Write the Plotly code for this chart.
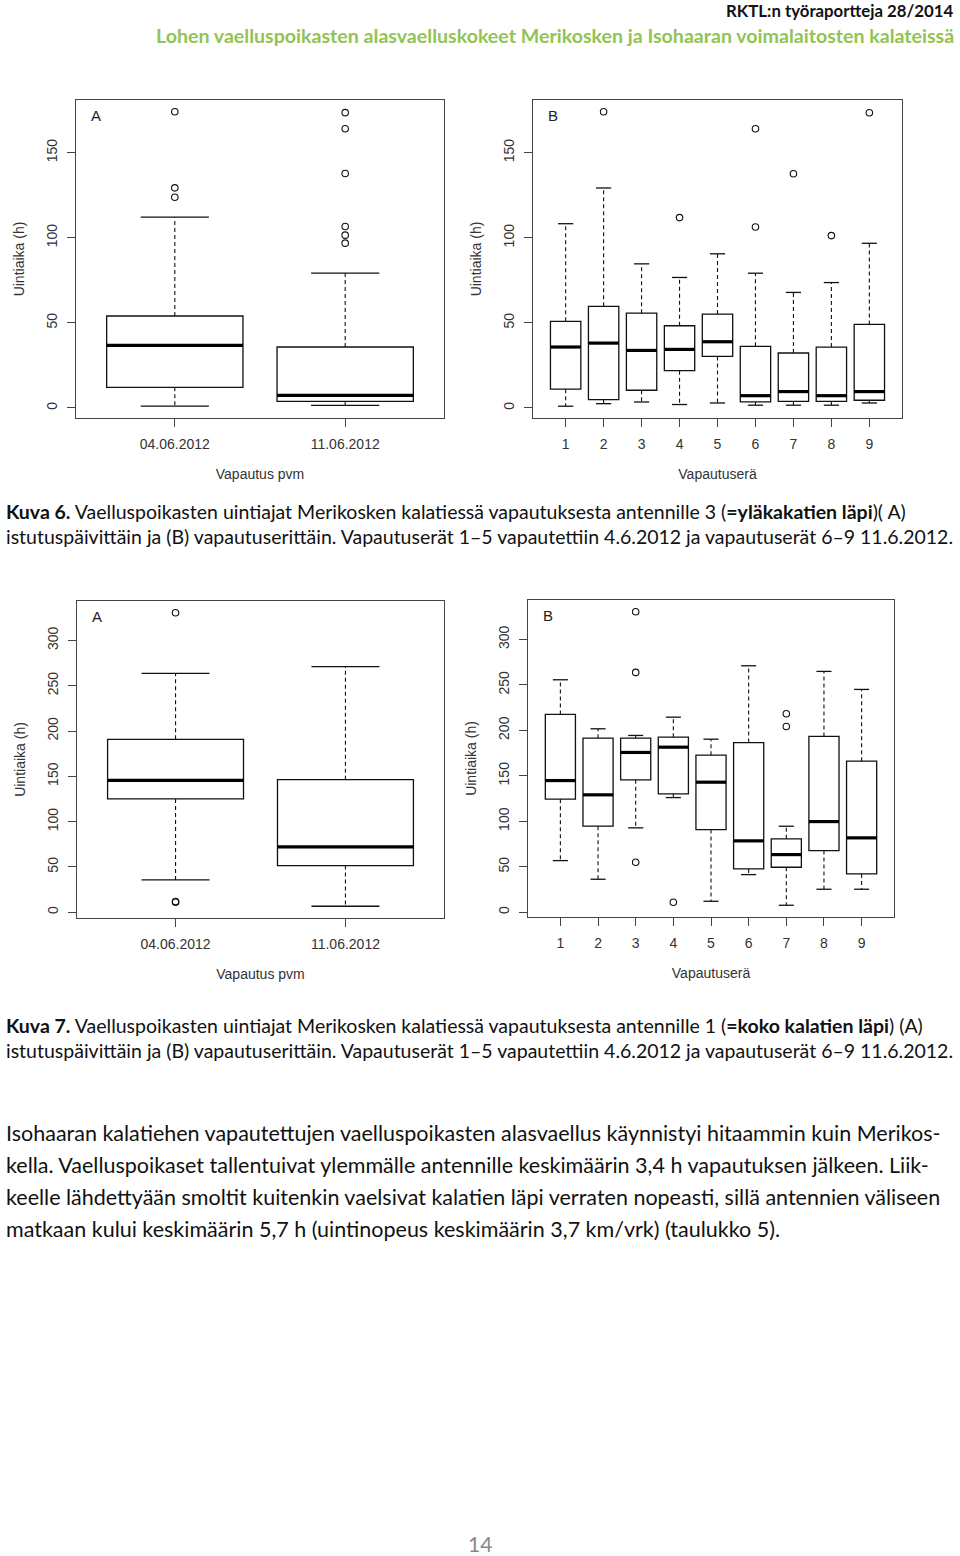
import plotly.graph_objects as go

# ---------------- data ----------------
k6a_labels = ["04.06.2012", "11.06.2012"]
k6a_lw = [1.0, 1.5]
k6a_q1 = [12.1, 3.9]
k6a_med = [36.7, 7.4]
k6a_q3 = [54.0, 35.8]
k6a_uw = [112.1, 79.2]
k6a_out = [[123.8, 129.3, 174.0], [96.8, 101.5, 106.6, 137.7, 164.0, 173.5]]

k6b_labels = ["1", "2", "3", "4", "5", "6", "7", "8", "9"]
k6b_lw = [1.0, 2.5, 3.5, 2.0, 2.9, 1.6, 1.6, 1.6, 2.9]
k6b_q1 = [11.0, 4.9, 10.4, 21.9, 30.3, 3.5, 3.9, 3.9, 4.5]
k6b_med = [35.8, 38.1, 33.8, 34.4, 38.9, 7.2, 9.6, 7.2, 9.6]
k6b_q3 = [50.9, 59.7, 55.7, 48.3, 55.2, 36.2, 32.3, 35.8, 49.1]
k6b_uw = [108.3, 129.3, 84.7, 76.7, 90.6, 79.2, 67.9, 73.7, 96.8]
k6b_out = [[], [174.1], [], [111.9], [], [106.4, 164.1], [137.7], [101.3], [173.5]]

k7a_labels = ["04.06.2012", "11.06.2012"]
k7a_lw = [35.7, 6.6]
k7a_q1 = [125.0, 51.5]
k7a_med = [145.6, 72.1]
k7a_q3 = [190.8, 146.3]
k7a_uw = [263.6, 271.0]
k7a_out = [[11.0, 11.8, 330.5], []]

k7b_labels = ["1", "2", "3", "4", "5", "6", "7", "8", "9"]
k7b_lw = [56.8, 36.3, 92.8, 126.1, 12.1, 41.4, 7.7, 25.3, 25.3]
k7b_q1 = [124.3, 94.6, 145.6, 130.2, 90.9, 47.7, 49.5, 67.8, 42.2]
k7b_med = [144.8, 129.1, 175.7, 181.5, 143.0, 78.5, 63.4, 99.7, 81.8]
k7b_q3 = [217.5, 191.4, 191.4, 192.5, 172.7, 186.6, 80.7, 193.3, 166.1]
k7b_uw = [255.6, 201.7, 194.4, 214.5, 190.3, 271.0, 94.6, 264.8, 245.0]
k7b_out = [[], [], [55.0, 263.7, 330.4], [11.0], [], [], [204.3, 218.2], [], []]

k6_yticks = [0, 50, 100, 150]
k7_yticks = [0, 50, 100, 150, 200, 250, 300]

# ---------------- page geometry ----------------
W, H = 960, 1556


def px(x):
    return x / W


def py(y):
    return 1 - y / H


R_FONT = "Liberation Sans, Arial, sans-serif"
DOC_FONT = "Lato, Open Sans, sans-serif"
BOXW = 0.8

fig = go.Figure()


def add_panel(n, labels, lw, q1, med, q3, uw, out, yticks, xtitle, letter, xdom, ydom):
    xa = "x" if n == 1 else f"x{n}"
    ya = "y" if n == 1 else f"y{n}"
    pos = list(range(1, len(labels) + 1))
    # dashed whiskers
    wx, wy = [], []
    for p, a, b, c, d in zip(pos, lw, q1, q3, uw):
        wx += [p, p, None, p, p, None]
        wy += [c, d, None, b, a, None]
    fig.add_trace(go.Scatter(x=wx, y=wy, mode="lines", xaxis=xa, yaxis=ya,
                             line=dict(color="#111", width=1.1, dash="4px,3px"),
                             showlegend=False, hoverinfo="skip"))
    # whisker staples
    sx, sy = [], []
    for p, a, d in zip(pos, lw, uw):
        sx += [p - BOXW / 4, p + BOXW / 4, None, p - BOXW / 4, p + BOXW / 4, None]
        sy += [d, d, None, a, a, None]
    fig.add_trace(go.Scatter(x=sx, y=sy, mode="lines", xaxis=xa, yaxis=ya,
                             line=dict(color="#111", width=1.3),
                             showlegend=False, hoverinfo="skip"))
    # boxes
    fig.add_trace(go.Box(x=pos, q1=q1, median=med, q3=q3, lowerfence=q1, upperfence=q3,
                         width=BOXW, whiskerwidth=0, boxpoints=False,
                         fillcolor="white", line=dict(color="#111", width=1.3),
                         xaxis=xa, yaxis=ya, showlegend=False))
    # medians (thick)
    mx, my = [], []
    for p, m in zip(pos, med):
        mx += [p - BOXW / 2, p + BOXW / 2, None]
        my += [m, m, None]
    fig.add_trace(go.Scatter(x=mx, y=my, mode="lines", xaxis=xa, yaxis=ya,
                             line=dict(color="black", width=3.2),
                             showlegend=False, hoverinfo="skip"))
    # outliers
    ox, oy = [], []
    for p, o in zip(pos, out):
        ox += [p] * len(o)
        oy += o
    fig.add_trace(go.Scatter(x=ox, y=oy, mode="markers", xaxis=xa, yaxis=ya,
                             marker=dict(symbol="circle-open", size=6.5,
                                         color="#111", line=dict(width=1.1)),
                             showlegend=False))
    # R-like 4% axis extension
    allv = lw + uw + [v for o in out for v in o]
    lo, hi = min(allv), max(allv)
    ext = 0.04 * (hi - lo)
    k = len(labels)
    xext = 0.04 * k
    axis_common = dict(showline=True, mirror=True, linecolor="#444", linewidth=1.3,
                       ticks="outside", ticklen=8, tickcolor="#444", tickwidth=1.2,
                       showgrid=False, zeroline=False,
                       tickfont=dict(family=R_FONT, size=14, color="#333"))
    fig.update_layout(**{
        ("xaxis" if n == 1 else f"xaxis{n}"): dict(
            domain=xdom, anchor=ya, range=[0.5 - xext, k + 0.5 + xext],
            tickvals=pos, ticktext=labels, ticklabelstandoff=5,
            title=dict(text=xtitle, standoff=18,
                       font=dict(family=R_FONT, size=14, color="#333")),
            **axis_common),
        ("yaxis" if n == 1 else f"yaxis{n}"): dict(
            domain=ydom, anchor=xa, range=[lo - ext, hi + ext],
            tickvals=yticks, ticktext=[str(t) for t in yticks], tickangle=-90,
            ticklabelstandoff=4,
            title=dict(text="Uintiaika (h)", standoff=16,
                       font=dict(family=R_FONT, size=14, color="#333")),
            **axis_common),
    })
    fig.add_annotation(text=letter, xref=f"{xa} domain", yref=f"{ya} domain",
                       x=0.035, y=0.952, xanchor="left", yanchor="middle", showarrow=False,
                       font=dict(family=R_FONT, size=15, color="#222"))


add_panel(1, k6a_labels, k6a_lw, k6a_q1, k6a_med, k6a_q3, k6a_uw, k6a_out, k6_yticks,
          "Vapautus pvm", "A", [px(76), px(444)], [py(418), py(100)])
add_panel(2, k6b_labels, k6b_lw, k6b_q1, k6b_med, k6b_q3, k6b_uw, k6b_out, k6_yticks,
          "Vapautuserä", "B", [px(533), px(902)], [py(418), py(100)])
add_panel(3, k7a_labels, k7a_lw, k7a_q1, k7a_med, k7a_q3, k7a_uw, k7a_out, k7_yticks,
          "Vapautus pvm", "A", [px(77), px(444)], [py(918), py(601)])
add_panel(4, k7b_labels, k7b_lw, k7b_q1, k7b_med, k7b_q3, k7b_uw, k7b_out, k7_yticks,
          "Vapautuserä", "B", [px(528), px(894)], [py(917), py(600)])

# ---------------- page text ----------------
def text(t, x, y, anchor="left", size=18, color="#111", family=DOC_FONT):
    fig.add_annotation(text=t, xref="paper", yref="paper", x=px(x), y=py(y),
                       xanchor=anchor, yanchor="middle", showarrow=False,
                       font=dict(family=family, size=size, color=color))


text("<b>RKTL:n työraportteja 28/2014</b>", 956, 10, anchor="right", size=16.8, color="#111")
text("<b>Lohen vaelluspoikasten alasvaelluskokeet Merikosken ja Isohaaran voimalaitosten kalateissä</b>",
     956, 35, anchor="right", size=19.6, color="#92C353")

text("<b>Kuva 6.</b> Vaelluspoikasten uintiajat Merikosken kalatiessä vapautuksesta antennille 3 "
     "(<b>=yläkakatien läpi</b>)( A)", 4, 511, size=19.5)
text("istutuspäivittäin ja (B) vapautuserittäin. Vapautuserät 1–5 vapautettiin 4.6.2012 ja "
     "vapautuserät 6–9 11.6.2012.", 4, 537, size=19.5)

text("<b>Kuva 7.</b> Vaelluspoikasten uintiajat Merikosken kalatiessä vapautuksesta antennille 1 "
     "(<b>=koko kalatien läpi</b>) (A)", 4, 1025, size=19.5)
text("istutuspäivittäin ja (B) vapautuserittäin. Vapautuserät 1–5 vapautettiin 4.6.2012 ja "
     "vapautuserät 6–9 11.6.2012.", 4, 1050, size=19.5)

para = [
    "Isohaaran kalatiehen vapautettujen vaelluspoikasten alasvaellus käynnistyi hitaammin kuin Merikos-",
    "kella. Vaelluspoikaset tallentuivat ylemmälle antennille keskimäärin 3,4 h vapautuksen jälkeen. Liik-",
    "keelle lähdettyään smoltit kuitenkin vaelsivat kalatien läpi verraten nopeasti, sillä antennien väliseen",
    "matkaan kului keskimäärin 5,7 h (uintinopeus keskimäärin 3,7 km/vrk) (taulukko 5).",
]
para_y = [1133, 1165, 1197, 1229]
for line, yy in zip(para, para_y):
    text(line, 4, yy, size=21.5)

text("14", 480, 1543, anchor="center", size=21, color="#888")

fig.update_layout(width=W, height=H, margin=dict(l=0, r=0, t=0, b=0),
                  paper_bgcolor="white", plot_bgcolor="white", template="none",
                  showlegend=False)

fig.write_html("out.html", config={"displayModeBar": False},
               post_script="document.body.style.margin='0';document.body.style.padding='0';")
